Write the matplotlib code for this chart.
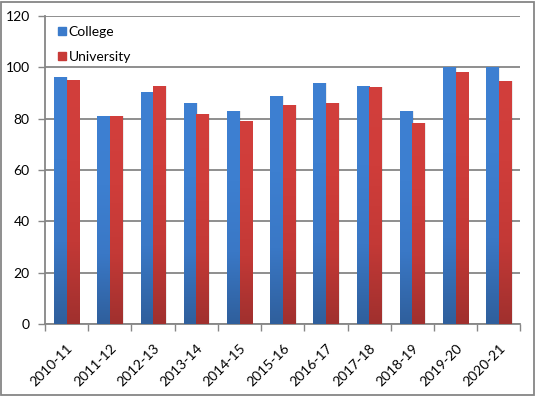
import numpy as np
import matplotlib
matplotlib.use("Agg")
import matplotlib.pyplot as plt
from matplotlib.colors import LinearSegmentedColormap
from matplotlib.patches import Rectangle

# Data
years = ["2010-11", "2011-12", "2012-13", "2013-14", "2014-15", "2015-16",
         "2016-17", "2017-18", "2018-19", "2019-20", "2020-21"]
college = [96, 81, 90.4, 86, 83, 88.8, 93.9, 92.7, 83, 100, 100]
university = [95.1, 81, 92.7, 81.8, 79.2, 85.3, 86.1, 92.3, 78.3, 98.2, 94.7]

plt.rcParams['font.family'] = ['Lato', 'DejaVu Sans']

fig = plt.figure(figsize=(5.36, 3.97), dpi=100)
ax = fig.add_axes([0.084, 0.184, 0.887, 0.776])

x = np.arange(len(years))
w = 0.29

# gradient fill: lighter at top, darker at the base
blue_cmap = LinearSegmentedColormap.from_list("b", ["#2f5f9c", "#3a78c6", "#3d7fd0", "#3e80d2"])
red_cmap = LinearSegmentedColormap.from_list("r", ["#a0302e", "#c33936", "#cf3d3a", "#d23f3c"])
grad = np.linspace(0, 1, 256).reshape(-1, 1)


def gradient_bars(bars, cmap):
    for b in bars:
        bx, by = b.get_x(), b.get_y()
        bw, bh = b.get_width(), b.get_height()
        # soft shadow to the right
        ax.add_patch(Rectangle((bx + 0.03, by), bw, bh, color="#000000",
                               alpha=0.08, lw=0, zorder=2))
        im = ax.imshow(grad, cmap=cmap, aspect="auto", origin="lower",
                       extent=(bx, bx + bw, by, by + bh), zorder=3)
        im.set_clip_path(b)
        b.set_facecolor("none")


b1 = ax.bar(x - w / 2, college, w, color="#3b7bcb", lw=0, zorder=3, label="College")
b2 = ax.bar(x + w / 2, university, w, color="#c83a37", lw=0, zorder=3, label="University")
gradient_bars(b1, blue_cmap)
gradient_bars(b2, red_cmap)

ax.set_xlim(-0.5, len(years) - 0.5)
ax.set_ylim(0, 120)
ax.set_yticks(range(0, 121, 20))
ax.yaxis.grid(True, color="#868686", lw=1.3)
ax.set_axisbelow(True)

# category boundary ticks like Excel
ax.set_xticks(np.arange(-0.5, len(years), 1), minor=False)
ax.set_xticklabels([])
ax.set_xticks(x, minor=True)
ax.set_xticklabels(years, minor=True, rotation=45, ha="right",
                   rotation_mode="anchor", fontsize=10)
ax.tick_params(axis="x", which="major", length=5, color="#868686", width=1)
ax.tick_params(axis="x", which="minor", length=0, pad=13)
ax.tick_params(axis="y", length=5, color="#868686", width=1, labelsize=10, pad=6)

for s in ["top", "right"]:
    ax.spines[s].set_visible(False)
for s in ["left", "bottom"]:
    ax.spines[s].set_color("#868686")
    ax.spines[s].set_linewidth(1.3)

# legend built from proxy patches
h1 = Rectangle((0, 0), 1, 1, color="#3b7bcb")
h2 = Rectangle((0, 0), 1, 1, color="#c83a37")
ax.legend([h1, h2], ["College", "University"], loc="upper left",
          bbox_to_anchor=(0.016, 0.985), borderaxespad=0, frameon=False,
          fontsize=10, handlelength=0.55, handleheight=0.55, handletextpad=0.2,
          labelspacing=0.92)

# outer chart border
fig.patches.append(Rectangle((0.002, 0.004), 0.994, 0.99, transform=fig.transFigure,
                             fill=False, ec="#868686", lw=1.3))

fig.savefig("out.png", dpi=100)
